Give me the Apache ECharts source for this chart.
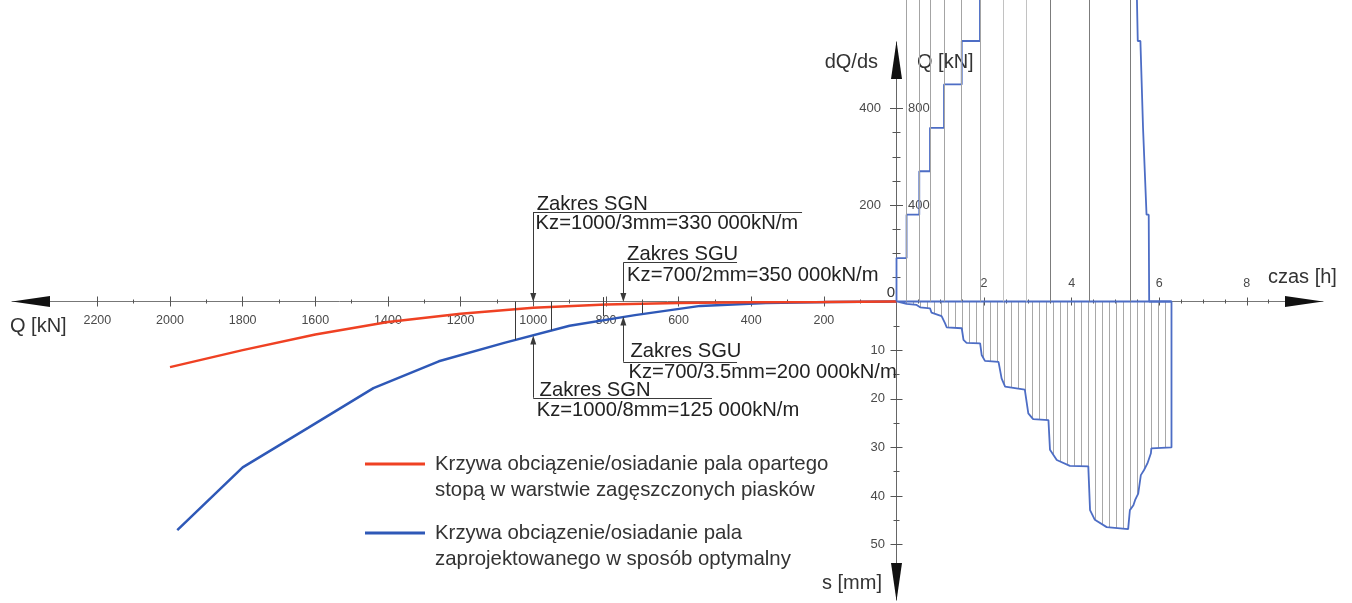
<!DOCTYPE html>
<html>
<head>
<meta charset="utf-8">
<script src="https://cdn.jsdelivr.net/npm/echarts@6.0.0/dist/echarts.min.js"></script>
<style>
html,body{margin:0;padding:0;background:#ffffff;}
#chart{width:1352px;height:603px;}
</style>
</head>
<body>
<div id="chart"></div>
<script>
// ===== values =====
// load-settlement curves (left half): Q [kN] -> s [mm]
const RED_Q  = [0, 200, 400, 600, 800, 1000, 1200, 1400, 1600, 1800, 2000];
const RED_S  = [0, 0.1, 0.15, 0.3, 0.6, 1.3, 2.5, 4.2, 6.8, 10.0, 13.5];
const BLUE_Q = [0, 180, 360, 540, 720, 900, 1080, 1260, 1440, 1620, 1800, 1980];
const BLUE_S = [0, 0.1, 0.3, 0.9, 2.8, 5.0, 8.5, 12.3, 17.8, 26.0, 34.1, 47.0];

// settlement in time (right half, lower): t [h] -> s [mm]
const SETTLE_T = [0, 0.23, 0.46, 0.54, 0.765, 0.80, 1.03, 1.11, 1.145, 1.49, 1.53, 1.60,
                  1.91, 1.945, 2.02, 2.33, 2.40, 2.48, 2.93, 3.01, 3.12, 3.47, 3.505, 3.66,
                  3.96, 4.38, 4.42, 4.53, 4.80, 5.29, 5.33, 5.41, 5.45, 5.52, 5.58, 5.65,
                  5.73, 5.81, 5.82, 6.28, 6.28, 0];
const SETTLE_S = [0, 0.5, 0.7, 1.2, 1.4, 2.3, 3.0, 4.5, 5.3, 5.5, 7.9, 8.5,
                  8.6, 11.0, 12.2, 12.4, 15.8, 17.5, 18.1, 23.0, 24.2, 24.4, 30.5, 32.6,
                  33.8, 33.9, 42.9, 44.9, 46.4, 46.8, 42.9, 41.9, 40.8, 39.5, 35.7, 34.7,
                  33.3, 31.2, 30.2, 30.0, 0, 0];

// load in time (right half, upper): t [h] -> Q [kN]
const LOAD_T = [0, 0, 0.23, 0.23, 0.52, 0.52, 0.765, 0.765, 1.085, 1.085, 1.49, 1.49,
                1.906, 1.906, 2.44, 2.44, 2.97, 2.97, 3.505, 3.505, 4.40, 4.40, 5.33, 5.33,
                5.47, 5.51, 5.57, 5.63, 5.67, 5.71, 5.76, 5.77, 6.28];
const LOAD_Q = [0, 180, 180, 360, 360, 540, 540, 720, 720, 900, 900, 1080,
                1080, 1260, 1260, 1440, 1440, 1620, 1620, 1800, 1800, 1980, 1980, 1440,
                1440, 1080, 1080, 720, 720, 360, 360, 0, 0];

// load-step instants marked with vertical lines [h]
const STEP_T = [0.23, 0.52, 0.765, 1.085, 1.49, 1.906, 2.44, 2.97, 3.505, 4.40, 5.33];

// tick values / labels
const Q_TICKS   = [200, 400, 600, 800, 1000, 1200, 1400, 1600, 1800, 2000, 2200];
const Q_MINOR   = [100, 300, 500, 700, 900, 1100, 1300, 1500, 1700, 1900, 2100];
const T_TICKS   = [2, 4, 6, 8];
const T_MINOR   = [0.5, 1, 1.5, 2.5, 3, 3.5, 4.5, 5, 5.5, 6.5, 7, 7.5, 8.5];
const S_TICKS   = [10, 20, 30, 40, 50];
const S_MINOR   = [5, 15, 25, 35, 45];
const QR_TICKS  = [400, 800];
const QR_MINOR  = [100, 200, 300, 500, 600, 700];
const DQ_TICKS  = [200, 400];

// legend
const LEGEND_TEXT = [
  'Krzywa obciązenie/osiadanie pala opartego\nstopą w warstwie zagęszczonych piasków',
  'Krzywa obciązenie/osiadanie pala\nzaprojektowanego w sposób optymalny'
];

// annotations (data coordinates Q [kN], s [mm])
const ANNOT_TEXT = ['Zakres SGN', 'Kz=1000/3mm=330 000kN/m', 'Zakres SGU', 'Kz=700/2mm=350 000kN/m',
                    'Zakres SGU', 'Kz=700/3.5mm=200 000kN/m', 'Zakres SGN', 'Kz=1000/8mm=125 000kN/m'];
const ANNOT_Q = [992, 995, 743, 743, 734, 739, 984, 992];
const ANNOT_S = [-20.05, -16.0, -9.66, -5.3, 10.32, 14.64, 18.2, 22.45];
const ARROW_FROM = [[1000, -18.4], [752, -8.0], [752, 12.4], [1000, 19.8]];
const ARROW_TO   = [[1000, -0.8], [752, -0.8], [752, 4.0], [1000, 7.9]];
const LINE_FROM  = [[1000, -18.4], [752, -8.0], [752, 12.4], [1000, 19.8], [1050, 0], [950, 0], [808, -0.9], [700, 0.3]];
const LINE_TO    = [[260, -18.4], [439, -8.0], [439, 12.4], [508, 19.8], [1050, 7.9], [950, 5.9], [808, 3.0], [700, 2.4]];

// ===== drawing =====
const QMAX = 2435, TMAX = 9.74;
const FONT = '"Liberation Sans", Arial, Helvetica, sans-serif';
const RED = '#ef4123', BLUE = '#2e58b7', BLUE2 = '#4d6dc5';

const hatch = document.createElement('canvas');
hatch.width = 7; hatch.height = 10;
const hctx = hatch.getContext('2d');
hctx.fillStyle = '#a8a8a8';
hctx.fillRect(3, 0, 1, 10);

function axis(o) {
  const base = {type: 'value', splitLine: {show: false}, axisLine: {show: false, onZero: false},
    axisTick: {show: false}, axisLabel: {show: false}, axisPointer: {show: false}};
  return Object.assign(base, o);
}
function ticks(vals, len) { return {show: true, customValues: vals, length: len, lineStyle: {color: '#555', width: 1}}; }
function labels(vals, margin, size, extra) {
  return Object.assign({show: true, customValues: vals, margin: margin, fontSize: size, color: '#4a4a4a',
    fontFamily: FONT, formatter: (v) => String(v)}, extra || {});
}
function g(o) { return Object.assign({containLabel: false, outerBoundsMode: 'none', show: false}, o); }

const grids = [
  g({left: 12, right: 455.5, top: 0, bottom: 0}),        // 0 Q-s data
  g({left: 896.5, right: 29, top: 0, bottom: 0}),        // 1 time data
  g({left: 12, right: 455.5, top: 0, bottom: 301.5}),    // 2 Q ticks
  g({left: 896.5, right: 29, top: 0, bottom: 301.5}),    // 3 time ticks
  g({left: 896.5, right: 29, top: 0, bottom: 0}),        // 4 vertical ticks
  g({left: 12, right: 29, top: 0, bottom: 301.5}),       // 5 horizontal axis line
  g({left: 896.5, right: 29, top: 42, bottom: 3}),       // 6 vertical axis line
  g({left: 31, width: 1, top: 0, bottom: 301.5}),        // 7 left arrow
  g({left: 1303, width: 1, top: 0, bottom: 301.5}),      // 8 right arrow
  g({left: 896.5, right: 29, top: 60, height: 1}),       // 9 up arrow
  g({left: 896.5, right: 29, top: 581, height: 1})       // 10 down arrow
];

const arrowLine = (sym) => ({show: true, onZero: false, symbol: sym, symbolSize: [11, 38], lineStyle: {color: '#111', width: 1}});

const xAxes = [
  axis({gridIndex: 0, min: 0, max: QMAX, inverse: true}),
  axis({gridIndex: 1, min: 0, max: TMAX}),
  axis({gridIndex: 2, min: 0, max: QMAX, inverse: true, position: 'bottom', offset: -5,
        axisTick: ticks(Q_TICKS, 10), axisLabel: labels(Q_TICKS, 18, 12.5)}),
  axis({gridIndex: 2, min: 0, max: QMAX, inverse: true, position: 'bottom', offset: -2,
        axisTick: ticks(Q_MINOR, 4)}),
  axis({gridIndex: 3, min: 0, max: TMAX, position: 'bottom', offset: -4,
        axisTick: ticks(T_TICKS, 8), axisLabel: labels(T_TICKS, 7, 12.5, {inside: true})}),
  axis({gridIndex: 3, min: 0, max: TMAX, position: 'bottom', offset: -2,
        axisTick: ticks(T_MINOR, 4)}),
  axis({gridIndex: 4, min: 0, max: 1}),
  axis({gridIndex: 5, min: 0, max: 1, position: 'bottom',
        axisLine: {show: true, onZero: false, lineStyle: {color: '#777', width: 1}}}),
  axis({gridIndex: 6, min: 0, max: 1}),
  axis({gridIndex: 7, min: 0, max: 1, position: 'bottom', axisLine: arrowLine(['triangle', 'none'])}),
  axis({gridIndex: 8, min: 0, max: 1, position: 'bottom', axisLine: arrowLine(['none', 'triangle'])}),
  axis({gridIndex: 9, min: 0, max: 1}),
  axis({gridIndex: 10, min: 0, max: 1})
];

const yAxes = [
  axis({gridIndex: 0, min: -62, max: 62, inverse: true}),
  axis({gridIndex: 1, min: -62, max: 62, inverse: true}),
  axis({gridIndex: 1, min: -1250, max: 1250}),
  axis({gridIndex: 2, min: 0, max: 1}),
  axis({gridIndex: 3, min: 0, max: 1}),
  axis({gridIndex: 4, min: -62, max: 62, inverse: true, position: 'left', offset: -6,
        axisTick: ticks(S_TICKS, 12), axisLabel: labels(S_TICKS, 17.5, 13)}),
  axis({gridIndex: 4, min: -62, max: 62, inverse: true, position: 'left', offset: -3,
        axisTick: ticks(S_MINOR, 6)}),
  axis({gridIndex: 4, min: -1250, max: 1250, position: 'left', offset: -6.5,
        axisTick: ticks(QR_TICKS, 13), axisLabel: labels(QR_TICKS, 5, 13, {inside: true})}),
  axis({gridIndex: 4, min: -1250, max: 1250, position: 'left', offset: -4,
        axisTick: ticks(QR_MINOR, 8)}),
  axis({gridIndex: 4, min: -625, max: 625, position: 'left', offset: 0,
        axisLabel: labels(DQ_TICKS, 15.5, 13)}),
  axis({gridIndex: 5, min: 0, max: 1}),
  axis({gridIndex: 6, min: 0, max: 1, position: 'left',
        axisLine: {show: true, onZero: false, lineStyle: {color: '#666', width: 1}}}),
  axis({gridIndex: 7, min: 0, max: 1}),
  axis({gridIndex: 8, min: 0, max: 1}),
  axis({gridIndex: 9, min: 0, max: 1, position: 'left', axisLine: arrowLine(['none', 'triangle'])}),
  axis({gridIndex: 10, min: 0, max: 1, position: 'left', axisLine: arrowLine(['triangle', 'none'])})
];

const zip = (a, b) => a.map((v, i) => [v, b[i]]);

const annotLines = ARROW_FROM.map((f, i) => [
  {coord: f, symbol: 'none'},
  {coord: ARROW_TO[i], symbol: 'triangle', symbolSize: [6, 9]}
]).concat(LINE_FROM.map((f, i) => [
  {coord: f, symbol: 'none'}, {coord: LINE_TO[i], symbol: 'none'}
]));

const annotTexts = ANNOT_TEXT.map((t, i) => ({
  coord: [ANNOT_Q[i], ANNOT_S[i]], value: t,
  label: {formatter: t}
}));

const stepLines = STEP_T.map((t, i) => [
  {coord: [t, 0], lineStyle: {color: i >= 8 ? '#7c7c7c' : (i >= 6 ? '#c2c2c2' : '#a4a4a4'), width: 1, type: 'solid'}},
  {coord: [t, 1250]}
]);

const graphicText = (x, y, text, align, size) => ({
  type: 'text', x: x, y: y, silent: true,
  style: {text: text, fill: '#333', font: (size || 20) + 'px ' + FONT, align: align, verticalAlign: 'middle'}
});

const option = {
  animation: false,
  backgroundColor: '#ffffff',
  grid: grids,
  xAxis: xAxes,
  yAxis: yAxes,
  legend: {
    data: LEGEND_TEXT,
    left: 365, top: 425, orient: 'vertical', padding: 0, itemGap: -9,
    itemWidth: 60, itemHeight: 3, icon: 'rect', selectedMode: false,
    formatter: (name) => '\n' + name,
    textStyle: {fontSize: 20.4, lineHeight: 26, color: '#333', fontFamily: FONT, padding: [0, 0, 0, 5]}
  },
  graphic: [
    graphicText(10, 326, 'Q [kN]', 'left'),
    graphicText(878, 62, 'dQ/ds', 'right'),
    graphicText(917, 62, 'Q [kN]', 'left'),
    graphicText(1268, 277, 'czas [h]', 'left'),
    graphicText(882, 583, 's [mm]', 'right'),
    graphicText(895, 293, '0', 'right', 15)
  ],
  series: [
    {
      name: LEGEND_TEXT[0], type: 'line', xAxisIndex: 0, yAxisIndex: 0,
      data: zip(RED_Q, RED_S), symbol: 'none', silent: true, z: 4,
      lineStyle: {color: RED, width: 2.5}, itemStyle: {color: RED}
    },
    {
      name: LEGEND_TEXT[1], type: 'line', xAxisIndex: 0, yAxisIndex: 0,
      data: zip(BLUE_Q, BLUE_S), symbol: 'none', silent: true, z: 3,
      lineStyle: {color: BLUE, width: 2.5}, itemStyle: {color: BLUE},
      markLine: {
        silent: true, animation: false, symbol: ['none', 'none'],
        label: {show: false},
        lineStyle: {color: '#3a3a3a', width: 1, type: 'solid'},
        data: annotLines
      },
      markPoint: {
        silent: true, animation: false, symbol: 'circle', symbolSize: 1,
        itemStyle: {color: 'rgba(0,0,0,0)'},
        label: {show: true, position: 'right', distance: 0, fontSize: 20.2, color: '#222', fontFamily: FONT},
        data: annotTexts
      }
    },
    {
      type: 'line', xAxisIndex: 1, yAxisIndex: 1,
      data: zip(SETTLE_T, SETTLE_S), symbol: 'none', silent: true, z: 3,
      lineStyle: {color: BLUE2, width: 1.8}, itemStyle: {color: BLUE2},
      areaStyle: {color: {image: hatch, repeat: 'repeat'}, opacity: 1}
    },
    {
      type: 'line', xAxisIndex: 1, yAxisIndex: 2,
      data: zip(LOAD_T, LOAD_Q), symbol: 'none', silent: true, z: 4,
      lineStyle: {color: BLUE2, width: 1.8}, itemStyle: {color: BLUE2},
      markLine: {
        silent: true, animation: false, symbol: ['none', 'none'], label: {show: false},
        data: stepLines
      }
    }
  ]
};

const chart = echarts.init(document.getElementById('chart'), null, {renderer: 'canvas'});
chart.setOption(option);
</script>
</body>
</html>
